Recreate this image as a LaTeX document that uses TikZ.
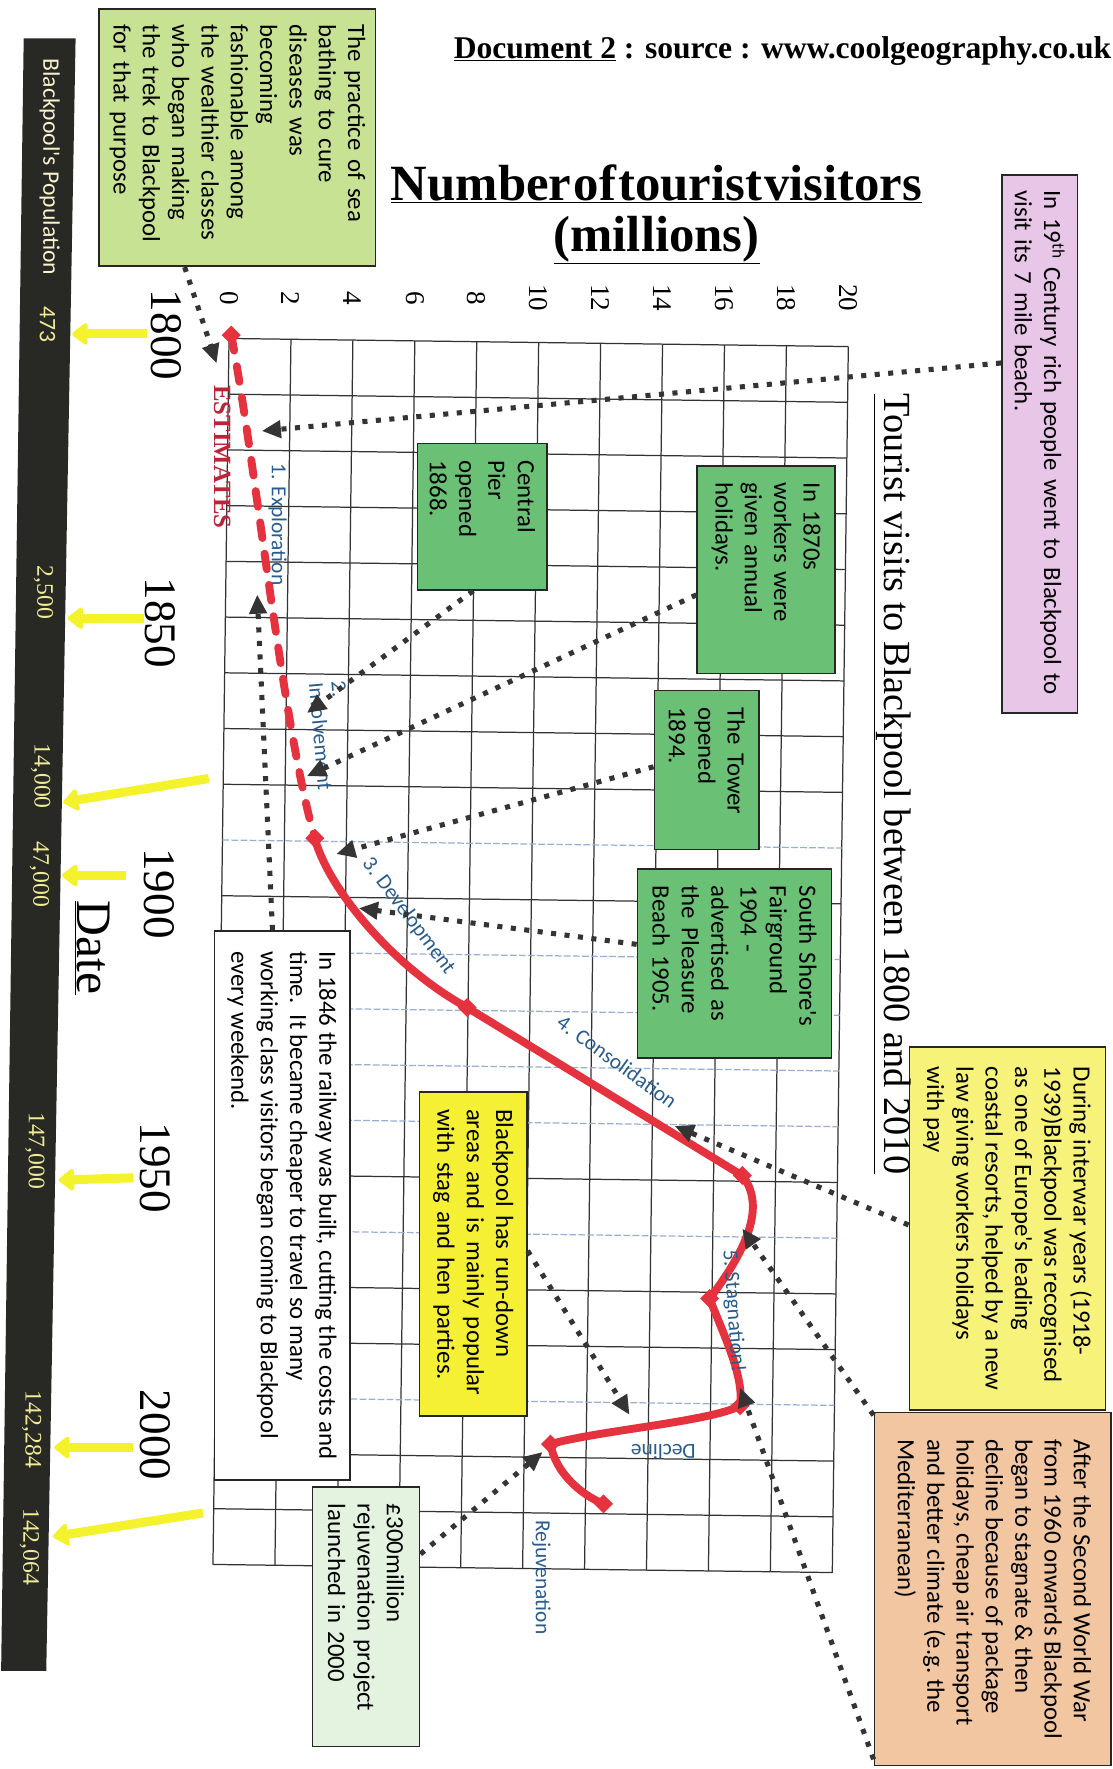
\documentclass[tikz,border=0pt]{standalone}
\usepackage{fontspec}
\setmainfont{Liberation Serif}
\newfontfamily\calfont{Carlito}
\usepackage{tikz}
\usetikzlibrary{positioning,calc,arrows.meta,shapes.geometric}

\definecolor{curvered}{RGB}{228,50,62}
\definecolor{estred}{RGB}{190,36,56}
\definecolor{boxgreen}{RGB}{106,192,116}
\definecolor{palegreen}{RGB}{200,226,148}
\definecolor{pinkbox}{RGB}{232,198,232}
\definecolor{warmyellow}{RGB}{247,243,122}
\definecolor{brightyellow}{RGB}{246,240,52}
\definecolor{peach}{RGB}{241,198,160}
\definecolor{mintbox}{RGB}{228,243,224}
\definecolor{barblack}{RGB}{40,40,36}
\definecolor{bartext}{RGB}{240,236,150}
\definecolor{barwhite}{RGB}{246,243,205}
\definecolor{hlyellow}{RGB}{244,242,44}
\definecolor{stageblue}{RGB}{40,92,142}
\definecolor{dotgrey}{RGB}{52,52,52}
\definecolor{gridblue}{RGB}{150,175,210}

\begin{document}
\begin{tikzpicture}[x=1pt,y=-1pt,
  every node/.style={inner sep=0pt},
  notebox/.style={draw=black!85,line width=1.4pt,rotate=-90,align=left,
    font=\calfont\fontsize{22}{26}\selectfont\frenchspacing},
  axnum/.style={rotate=-90,font=\fontsize{24}{24}\selectfont},
  yearlab/.style={rotate=-90,font=\fontsize{40}{40}\selectfont},
  poplab/.style={rotate=-90,text=bartext,font=\fontsize{21}{21}\selectfont},
  stagelab/.style={text=stageblue,align=left,font=\calfont\fontsize{19}{20}\selectfont},
  marker/.style={diamond,fill=curvered,minimum size=17pt},
  visline/.style={curvered,line width=7pt,line cap=round,line join=round},
  pointer/.style={dotgrey,line width=4.5pt,dash pattern=on 4.5pt off 7.5pt,
    -{Triangle[length=17pt,width=15pt]}},
  hilite/.style={hlyellow,line width=8pt,-{Triangle[length=15pt,width=22pt,round]}},
  gridline/.style={black!80,line width=1.1pt},
  gridfaint/.style={gridblue,line width=1.1pt,dash pattern=on 6pt off 2pt}]
\useasboundingbox (0,0) rectangle (986,1568);

% population strip
\fill[barblack] (21,34) -- (67,34) -- (41,1481) -- (1,1481) -- cycle;

% grid, 2 million x 10 years
\begin{scope}[rotate around={-0.75:(203,300)}]
  \foreach \k in {0,...,10}
    \draw[gridline] ({203+54.9*\k},300) -- ({203+54.9*\k},1387);
  \foreach \r in {0,...,8,10,15,17,18,20,21,22}
    \draw[gridline] (203,{300+49.4*\r}) -- (752,{300+49.4*\r});
  \foreach \r in {9,11,12,13,14,16,19}
    \draw[gridfaint] (203,{300+49.4*\r}) -- (752,{300+49.4*\r});
\end{scope}

% titles
\node[anchor=west,font=\bfseries\fontsize{28}{28}\selectfont] (doc) at (402,45)
  {\underline{Document 2} : source : www.coolgeography.co.uk};
\node[align=center,font=\bfseries\fontsize{45}{45}\selectfont] (ytitle) at (582,190)
  {\underline{Number\hspace{2pt}of\hspace{2pt}tourist\hspace{2pt}visitors}\\\underline{(millions)}};
\node[rotate=-90,font=\fontsize{44}{44}\selectfont] (date) at (82,840) {\underline{Date}};

\foreach \v [count=\k from 0] in {0,2,...,20}
  \node[axnum] (ax\v) at ({203+54.9*\k},264) {\v};
\node[yearlab] (y1800) at (147,297) {1800};
\node[yearlab] (y1850) at (142,552) {1850};
\node[yearlab] (y1900) at (141,792) {1900};
\node[yearlab] (y1950) at (138,1035) {1950};
\node[yearlab] (y2000) at (138,1272) {2000};

% notes
\node[notebox,fill=palegreen,minimum width=228pt,minimum height=245pt,text width=200pt] (sea) at (210.5,122)
  {The practice of sea\\bathing to cure\\diseases was\\becoming\\fashionable among\\the wealthier classes\\who began making\\the trek to Blackpool\\for that purpose};
\node[notebox,fill=pinkbox,minimum width=477pt,minimum height=67pt,text width=449pt] (pink) at (921.5,393.5)
  {In 19\textsuperscript{th} Century rich people went to Blackpool to\\visit its 7 mile beach.};
\node[notebox,fill=boxgreen,minimum width=130pt,minimum height=115pt,text width=100pt] (pier) at (427.5,458)
  {Central\\Pier\\opened\\1868.};
\node[notebox,fill=boxgreen,minimum width=184pt,minimum height=122pt,text width=154pt] (holid) at (679,505)
  {In 1870s\\workers were\\given annual\\holidays.};
\node[notebox,fill=boxgreen,minimum width=141pt,minimum height=93pt,text width=111pt] (tower) at (626.5,682.5)
  {The Tower\\opened\\1894.};
\node[notebox,fill=boxgreen,minimum width=168pt,minimum height=172pt,text width=138pt] (fair) at (651,854)
  {South Shore's\\Fairground\\1904 -\\advertised as\\the Pleasure\\Beach 1905.};
\node[notebox,fill=warmyellow,minimum width=322pt,minimum height=174pt] (inter) at (893,1089)
  {During interwar years (1918-\\1939)Blackpool was recognised\\as one of Europe's leading\\coastal resorts, helped by a new\\law giving workers holidays\\with pay};
\node[notebox,fill=peach,minimum width=313pt,minimum height=210pt] (post) at (880,1408.5)
  {After the Second World War\\from 1960 onwards Blackpool\\began to stagnate \& then\\decline because of package\\holidays, cheap air transport\\and better climate (e.g. the\\Mediterranean)};
\node[notebox,fill=brightyellow,minimum width=287pt,minimum height=95pt,text width=257pt] (run) at (419.5,1111.5)
  {Blackpool has run-down\\areas and is mainly popular\\with stag and hen parties.};
\node[notebox,fill=white,minimum width=487pt,minimum height=120pt] (rail) at (250,1068.5)
  {In 1846 the railway was built, cutting the costs and\\time.\ \ It became cheaper to travel so many\\working class visitors began coming to Blackpool\\every weekend.};
\node[notebox,fill=mintbox,minimum width=230pt,minimum height=95pt,text width=200pt] (rejuv) at (324.5,1433)
  {£300million\\rejuvenation project\\launched in 2000};

\node[rotate=-90,font=\fontsize{34}{34}\selectfont] (xtitle) at (791,695)
  {\underline{Tourist visits to Blackpool between 1800 and 2010}};

% visitor curve
\node[marker] (d0) at (205,297) {};
\node[marker] (d1) at (279,743) {};
\node[marker] (d2) at (414,893) {};
\node[marker] (d3) at (658,1042) {};
\node[marker] (d4) at (629,1151) {};
\node[marker] (d5) at (656,1246) {};
\node[marker] (d6) at (488,1280) {};
\node[marker] (d7) at (535,1333) {};
\draw[visline,dash pattern=on 14pt off 14pt] (d0.center) .. controls (228,420) and (250,640) .. (d1.center);
\draw[visline] (d1.center) .. controls (290,785) and (345,855) .. (d2.center) -- (d3.center)
  .. controls (680,1070) and (660,1110) .. (d4.center)
  .. controls (640,1180) and (660,1220) .. (d5.center)
  .. controls (630,1260) and (530,1268) .. (d6.center)
  .. controls (492,1305) and (515,1325) .. (d7.center);

\node[rotate=-90,text=estred,font=\bfseries\fontsize{22}{22}\selectfont] (est) at (197,405) {ESTIMATES};
\node[stagelab,rotate=-90] (s1) at (246,465) {1. Exploration};
\node[stagelab,rotate=-85] (s2) at (294,652) {2.\\Involvement};
\node[stagelab,rotate=-53] (s3) at (362,812) {3. Development};
\node[stagelab,rotate=-36] (s4) at (547,941) {4. Consolidation};
\node[stagelab,rotate=-86] (s5) at (650,1162) {5. Stagnation!};
\node[stagelab,rotate=180] (s6) at (588,1287) {Decline};
\node[stagelab,rotate=-90] (s7) at (480,1398) {Rejuvenation};

% pointers from the notes
\coordinate (eSea) at (192,322);
\coordinate (ePink) at (232,382);
\coordinate (eRail) at (228,527);
\coordinate (ePier) at (272,632);
\coordinate (eHolid) at (272,688);
\coordinate (eTower) at (298,757);
\coordinate (eFair) at (318,805);
\coordinate (eInter) at (598,998);
\coordinate (ePostA) at (658,1089);
\coordinate (ePostB) at (656,1230);
\coordinate (eRun) at (558,1254);
\coordinate (eRejuv) at (481,1287);
\draw[pointer] ($(sea.south east)!0.31!(sea.north east)$) -- (eSea);
\draw[pointer] ($(pink.south west)!0.35!(pink.south east)$) -- (ePink);
\draw[pointer] ($(rail.south west)!0.43!(rail.north west)$) -- (eRail);
\draw[pointer] ($(pier.south east)!0.43!(pier.north east)$) -- (ePier);
\draw[pointer] ($(holid.south west)!0.62!(holid.south east)$) -- (eHolid);
\draw[pointer] ($(tower.south west)!0.48!(tower.south east)$) -- (eTower);
\draw[pointer] ($(fair.south west)!0.40!(fair.south east)$) -- (eFair);
\draw[pointer] ($(inter.south west)!0.49!(inter.south east)$) -- (eInter);
\draw[pointer] ($(post.south west)!0.01!(post.south east)$) -- (ePostA);
\draw[pointer] ($(post.south west)!0.98!(post.south east)$) -- (ePostB);
\draw[pointer] ($(run.north west)!0.49!(run.north east)$) -- (eRun);
\draw[pointer] ($(rejuv.north west)!0.26!(rejuv.north east)$) -- (eRejuv);

% population figures
\node[poplab,text=barwhite,font=\calfont\fontsize{21}{21}\selectfont] (ptitle) at (44,148) {Blackpool's Population};
\node[poplab,font=\calfont\fontsize{21}{21}\selectfont] (p473) at (42,288) {473};
\node[poplab] (p2500) at (38.5,525) {2,500};
\node[poplab] (p14000) at (36,688) {14,000};
\node[poplab] (p47000) at (35,775) {47,000};
\node[poplab] (p147000) at (31,1020) {147,000};
\node[poplab] (p142284) at (28,1267) {142,284};
\node[poplab] (p142064) at (26,1371) {142,064};

\coordinate (h1a) at (130,296);  \coordinate (h1b) at (64,296);
\coordinate (h2a) at (128,548);  \coordinate (h2b) at (60,548);
\coordinate (h3a) at (185,690);  \coordinate (h3b) at (56,711);
\coordinate (h4a) at (112,776);  \coordinate (h4b) at (55,776);
\coordinate (h5a) at (118,1044); \coordinate (h5b) at (52,1046);
\coordinate (h6a) at (118,1283); \coordinate (h6b) at (48,1283);
\coordinate (h7a) at (180,1341); \coordinate (h7b) at (47,1362);
\foreach \i in {1,...,7}
  \draw[hilite] (h\i a) -- (h\i b);
\end{tikzpicture}
\end{document}
